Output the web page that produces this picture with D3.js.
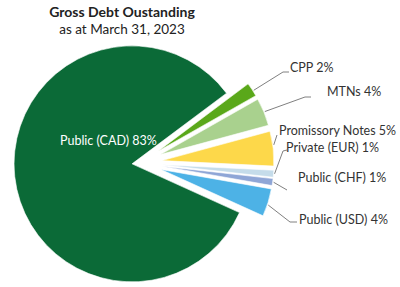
<!DOCTYPE html>
<html lang="en">
  <head>
    <meta charset="UTF-8" />
    <title>Gross Debt Oustanding</title>
    <style>
      body {
        margin: 0;
        background-color: #fff;
      }
      svg {
        display: block;
        font-family: Lato, "Open Sans", sans-serif;
      }
      .leader {
        fill: none;
        stroke: #808080;
        stroke-width: 1px;
      }
    </style>
  </head>

  <body>
    <div class="container"></div>

    <script src="https://d3js.org/d3.v7.min.js"></script>
    <script>
      // data (clockwise from the CPP slice)
      const categories = ["CPP", "MTNs", "Promissory Notes", "Private (EUR)", "Public (CHF)", "Public (USD)", "Public (CAD)"];
      const shares = [2, 4, 5, 1, 1, 4, 83];
      const colors = ["#5aa81a", "#a9d18e", "#fdd84a", "#c5dcea", "#8fa6d6", "#4db2e6", "#0b6a37"];

      // label layout: text position, leader elbow/end and where on the arc it starts
      const labelPos = [[290, 72], [327, 96], [279, 135], [286, 152], [298, 182], [299, 224], [60, 145]];
      const leaderPts = [
        [[283, 72], [289, 72]],
        [[305, 97], [311, 97]],
        [[277, 135]],
        [[283, 151], [287, 150]],
        [[287, 190]],
        [[290, 222], [297, 222]],
        null
      ];
      const leaderT = [0.6, 0.5, 0.4, 0.5, 0.5, 0.58, 0];

      const w = 400, h = 287;
      const cx = 140, cy = 163;
      const rSmall = 112, rBig = 118;
      const explodeSmall = 22, explodeBig = 8;
      const deg = Math.PI / 180;
      const start = 53.2 * deg;

      const svg = d3.select(".container")
                    .append("svg")
                    .attr("width", w)
                    .attr("height", h);

      svg.append("text")
         .attr("x", 122).attr("y", 17)
         .attr("text-anchor", "middle")
         .style("font-weight", "bold")
         .style("font-size", "14px")
         .style("fill", "#222")
         .text("Gross Debt Oustanding");

      svg.append("text")
         .attr("x", 122).attr("y", 34)
         .attr("text-anchor", "middle")
         .style("font-size", "13.5px")
         .style("fill", "#222")
         .text("as at March 31, 2023");

      const pie = d3.pie().sort(null).value(d => d)
                    .startAngle(start).endAngle(start + 2 * Math.PI);
      const arcs = pie(shares);

      const isBig = i => i === shares.length - 1;
      const offset = (d, i) => {
        const mid = (d.startAngle + d.endAngle) / 2;
        const e = isBig(i) ? explodeBig : explodeSmall;
        return [e * Math.sin(mid), -e * Math.cos(mid)];
      };

      const arcSmall = d3.arc().innerRadius(0).outerRadius(rSmall);
      const arcBig = d3.arc().innerRadius(0).outerRadius(rBig);

      const g = svg.append("g").attr("transform", "translate(" + cx + "," + cy + ")");

      g.selectAll("path.slice")
       .data(arcs)
       .enter()
       .append("path")
       .attr("class", "slice")
       .attr("d", (d, i) => (isBig(i) ? arcBig : arcSmall)(d))
       .attr("transform", (d, i) => "translate(" + offset(d, i) + ")")
       .style("fill", (d, i) => colors[i])
       .style("stroke", "#fff")
       .style("stroke-width", 0.6);

      // leader lines
      arcs.forEach((d, i) => {
        if (!leaderPts[i]) return;
        const [ox, oy] = offset(d, i);
        const a = d.startAngle + (d.endAngle - d.startAngle) * leaderT[i];
        const r = rSmall + 1;
        const p0 = [cx + ox + r * Math.sin(a), cy + oy - r * Math.cos(a)];
        svg.append("path")
           .attr("class", "leader")
           .attr("d", d3.line()([p0].concat(leaderPts[i])));
      });

      svg.selectAll("text.label")
         .data(arcs)
         .enter()
         .append("text")
         .attr("class", "label")
         .attr("x", (d, i) => labelPos[i][0])
         .attr("y", (d, i) => labelPos[i][1])
         .style("font-size", "12.5px")
         .style("fill", (d, i) => isBig(i) ? "#fff" : "#333")
         .text((d, i) => categories[i] + " " + shares[i] + "%");
    </script>
  </body>
</html>
